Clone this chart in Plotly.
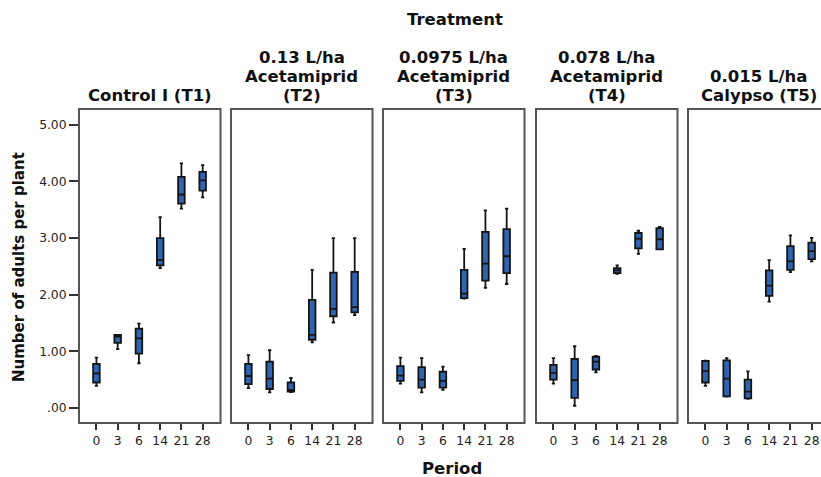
import plotly.graph_objects as go

# Sampling days after spraying (x categories)
PERIODS = ["0", "3", "6", "14", "21", "28"]

# Treatment headers, one list of lines per panel
TREATMENTS = [
    ["Control I (T1)"],
    ["0.13 L/ha", "Acetamiprid", "(T2)"],
    ["0.0975 L/ha", "Acetamiprid", "(T3)"],
    ["0.078 L/ha", "Acetamiprid", "(T4)"],
    ["0.015 L/ha", "Calypso (T5)"],
]

# Five-number summaries per period:
# (lower whisker, Q1, median, Q3, upper whisker), adults per plant
T1 = [
    (0.39, 0.45, 0.61, 0.78, 0.89),
    (1.04, 1.15, 1.26, 1.29, 1.29),
    (0.79, 0.96, 1.23, 1.40, 1.49),
    (2.47, 2.52, 2.61, 3.00, 3.37),
    (3.52, 3.61, 3.77, 4.08, 4.32),
    (3.72, 3.84, 4.02, 4.17, 4.29),
]
T2 = [
    (0.35, 0.42, 0.565, 0.78, 0.935),
    (0.275, 0.335, 0.52, 0.82, 1.02),
    (0.28, 0.29, 0.32, 0.45, 0.53),
    (1.16, 1.205, 1.29, 1.91, 2.44),
    (1.51, 1.62, 1.75, 2.39, 3.00),
    (1.64, 1.69, 1.78, 2.405, 3.00),
]
T3 = [
    (0.43, 0.48, 0.57, 0.74, 0.89),
    (0.275, 0.36, 0.50, 0.72, 0.88),
    (0.32, 0.36, 0.48, 0.64, 0.73),
    (1.93, 1.94, 2.02, 2.44, 2.81),
    (2.12, 2.25, 2.55, 3.11, 3.49),
    (2.19, 2.38, 2.68, 3.16, 3.52),
]
T4 = [
    (0.43, 0.50, 0.62, 0.76, 0.88),
    (0.04, 0.18, 0.49, 0.865, 1.09),
    (0.63, 0.68, 0.82, 0.905, 0.92),
    (2.37, 2.38, 2.43, 2.47, 2.52),
    (2.72, 2.82, 2.99, 3.09, 3.13),
    (2.80, 2.80, 2.98, 3.175, 3.20),
]
T5 = [
    (0.39, 0.45, 0.65, 0.83, 0.835),
    (0.20, 0.205, 0.52, 0.84, 0.88),
    (0.16, 0.17, 0.29, 0.50, 0.645),
    (1.88, 1.98, 2.16, 2.43, 2.61),
    (2.40, 2.44, 2.59, 2.86, 3.05),
    (2.59, 2.63, 2.77, 2.92, 3.005),
]
SUMMARIES = [T1, T2, T3, T4, T5]

Y_TICKS = [0, 1, 2, 3, 4, 5]
Y_TICKTEXT = [".00", "1.00", "2.00", "3.00", "4.00", "5.00"]

# ---- page geometry (pixels) ----
W, H = 821, 477
ML, MR, MT, MB = 79, 0, 109, 54
PW = W - ML - MR
PH = H - MT - MB
PANEL_LEFT = [79, 231, 383, 536, 688]
PANEL_W = 141.5
UNIT_PX = 21.25          # pixels per category step
X_START = -0.82
Y_RANGE = [-0.265, 5.28]

FONT = "DejaVu Sans"
BOX_FILL = "#2f64b0"
LINE_COL = "#141414"
FRAME_COL = "#555555"


def px_to_paper_y(py):
    return (H - MB - py) / PH


def px_to_paper_x(px):
    return (px - ML) / PW


fig = go.Figure()

shapes = []
annotations = []
for i, (stats, header) in enumerate(zip(SUMMARIES, TREATMENTS)):
    n = i + 1
    suffix = "" if n == 1 else str(n)
    left = PANEL_LEFT[i]
    right_full = left + PANEL_W
    right_vis = min(right_full, W - MR)
    d0, d1 = px_to_paper_x(left), px_to_paper_x(right_vis)

    low = [s[0] for s in stats]
    q1 = [s[1] for s in stats]
    med = [s[2] for s in stats]
    q3 = [s[3] for s in stats]
    high = [s[4] for s in stats]

    fig.add_trace(go.Box(
        x=list(range(len(PERIODS))),
        lowerfence=low, q1=q1, median=med, q3=q3, upperfence=high,
        fillcolor=BOX_FILL,
        line=dict(color=LINE_COL, width=1.8),
        width=0.31,
        whiskerwidth=0.5,
        boxpoints=False,
        showlegend=False,
        hoverinfo="skip",
        xaxis="x" + suffix, yaxis="y" + suffix,
    ))

    x_end = X_START + (right_vis - left) / UNIT_PX
    fig.update_layout(**{
        "xaxis" + suffix: dict(
            domain=[d0, d1], range=[X_START, x_end],
            tickmode="array", tickvals=list(range(len(PERIODS))), ticktext=PERIODS,
            ticks="outside", ticklen=6, tickwidth=1.5, tickcolor="#333",
            showgrid=False, zeroline=False, showline=False,
            tickfont=dict(family=FONT, size=12.3, color="#222"),
            anchor="y" + suffix, fixedrange=True,
        ),
        "yaxis" + suffix: dict(
            domain=[0, 1], range=Y_RANGE,
            tickmode="array", tickvals=Y_TICKS, ticktext=Y_TICKTEXT,
            ticks="outside" if n == 1 else "", ticklen=9, tickwidth=1.5, tickcolor="#333",
            showticklabels=(n == 1),
            showgrid=False, zeroline=False, showline=False,
            tickfont=dict(family=FONT, size=12.3, color="#222"),
            anchor="x" + suffix, fixedrange=True,
        ),
    })

    # panel frame (the last panel runs past the page edge)
    shapes.append(dict(
        type="rect", xref="paper", yref="paper",
        x0=d0, x1=px_to_paper_x(right_full), y0=0, y1=1,
        line=dict(color=FRAME_COL, width=2), fillcolor="rgba(0,0,0,0)",
    ))

    # panel header, bottom line sits just above the frame
    cx = px_to_paper_x(left + PANEL_W / 2)
    line_ys = [95, 76.5, 58]
    for k, txt in enumerate(reversed(header)):
        annotations.append(dict(
            text=txt, x=cx, y=px_to_paper_y(line_ys[k]),
            xref="paper", yref="paper", xanchor="center", yanchor="middle",
            showarrow=False,
            font=dict(family=FONT, size=16.5, color="#111", weight="bold"),
        ))

annotations += [
    dict(text="Treatment", x=px_to_paper_x(455), y=px_to_paper_y(20),
         xref="paper", yref="paper", xanchor="center", yanchor="middle", showarrow=False,
         font=dict(family=FONT, size=16.5, color="#111", weight="bold")),
    dict(text="Period", x=px_to_paper_x(452), y=px_to_paper_y(468),
         xref="paper", yref="paper", xanchor="center", yanchor="middle", showarrow=False,
         font=dict(family=FONT, size=16.5, color="#111", weight="bold")),
    dict(text="Number of adults per plant", x=px_to_paper_x(19), y=px_to_paper_y(267),
         xref="paper", yref="paper", xanchor="center", yanchor="middle", showarrow=False,
         textangle=-90,
         font=dict(family=FONT, size=15, color="#111", weight="bold")),
]

fig.update_layout(
    width=W, height=H,
    margin=dict(l=ML, r=MR, t=MT, b=MB, pad=0),
    paper_bgcolor="white", plot_bgcolor="white",
    shapes=shapes, annotations=annotations,
    boxmode="overlay",
)

fig.write_html("out.html", config={"displayModeBar": False})
